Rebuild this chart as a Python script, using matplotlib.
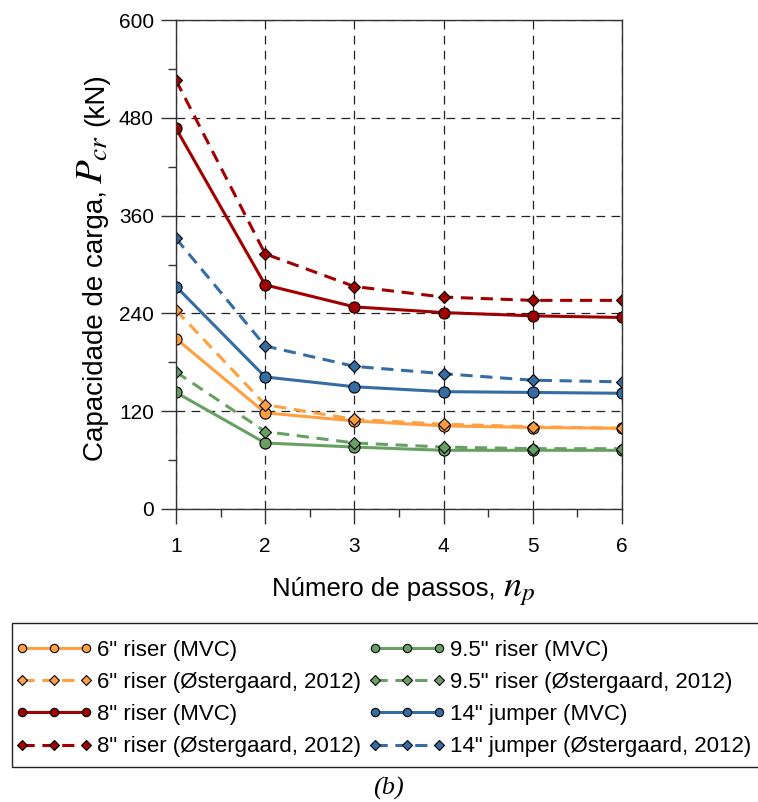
import numpy as np
import matplotlib
matplotlib.use('Agg')
import matplotlib.pyplot as plt
from matplotlib.patches import Rectangle
from matplotlib.transforms import IdentityTransform

plt.rcParams['font.family'] = ['Liberation Sans', 'DejaVu Sans']
plt.rcParams['mathtext.fontset'] = 'stix'

# Data
n_p = [1, 2, 3, 4, 5, 6]
riser6_mvc = [209, 118, 108, 102, 100, 99]
riser6_ost = [244, 128, 110, 104, 101, 99]
riser8_mvc = [467, 275, 248, 241, 237, 235]
riser8_ost = [526, 313, 273, 260, 256, 256]
riser95_mvc = [143, 81, 76, 72, 72, 72]
riser95_ost = [168, 95, 81, 76, 74, 74]
jumper14_mvc = [273, 162, 150, 144, 143, 142]
jumper14_ost = [332, 200, 175, 166, 158, 156]

labels = ['6" riser (MVC)', '6" riser (Østergaard, 2012)',
          '8" riser (MVC)', '8" riser (Østergaard, 2012)',
          '9.5" riser (MVC)', '9.5" riser (Østergaard, 2012)',
          '14" jumper (MVC)', '14" jumper (Østergaard, 2012)']

c_orange = '#FFA040'
c_red = '#A00000'
c_blue = '#356CA3'
c_green = '#68A064'

W, H = 758, 802
fig = plt.figure(figsize=(W / 100, H / 100), dpi=100)
ax = fig.add_axes([176 / W, 1 - 509 / H, 446 / W, 489 / H])

lw = 2.2
dash = (4, 2.5)
mvc_kw = dict(marker='o', markersize=8, markeredgecolor='black', markeredgewidth=0.8, lw=lw)
ost_kw = dict(marker='D', markersize=6.5, markeredgecolor='black', markeredgewidth=0.8, lw=lw,
              linestyle='--', dashes=dash)

handles = {}
for key, y, col in [('6m', riser6_mvc, c_orange), ('8m', riser8_mvc, c_red),
                    ('9m', riser95_mvc, c_green), ('14m', jumper14_mvc, c_blue)]:
    handles[key], = ax.plot(n_p, y, color=col, markerfacecolor=col, **mvc_kw)
for key, y, col in [('6o', riser6_ost, c_orange), ('8o', riser8_ost, c_red),
                    ('9o', riser95_ost, c_green), ('14o', jumper14_ost, c_blue)]:
    handles[key], = ax.plot(n_p, y, color=col, markerfacecolor=col, **ost_kw)

ax.set_xlim(1, 6)
ax.set_ylim(0, 600)
ax.set_xticks(n_p)
ax.set_yticks([0, 120, 240, 360, 480, 600])
ax.set_xticks(np.arange(1.5, 6, 1), minor=True)
ax.set_yticks([60, 180, 300, 420, 540], minor=True)
ax.tick_params(which='major', direction='out', length=11, width=1, color='#333333',
               labelsize=15)
ax.tick_params(which='minor', direction='out', length=5.5, width=1, color='#333333')
ax.tick_params(axis='x', which='major', pad=9)
ax.tick_params(axis='y', which='major', pad=5)
for s in ax.spines.values():
    s.set_color('#333333')
    s.set_linewidth(1)
ax.grid(True, which='major', color='#222222', linestyle=(0, (7, 5)), linewidth=0.9)
ax.set_axisbelow(True)

# axis labels: plain text pieces with a larger serif math symbol, placed in pixels
renderer = fig.canvas.get_renderer()


def chain(parts, x, y, rotation):
    for s, size, gap in parts:
        t = fig.text(x, y, s, fontsize=size, rotation=rotation, rotation_mode='anchor',
                     ha='left', va='baseline', transform=IdentityTransform())
        bb = t.get_window_extent(renderer)
        if rotation == 90:
            y = bb.y1 + gap
        else:
            x = bb.x1 + gap


chain([('Número de passos,', 18.5, 7), ('$n_p$', 26, 0)], 272, H - 596, 0)
chain([('Capacidade de carga,', 20, 6), ('$P_{cr}$', 28, 9), ('(kN)', 20, 0)],
      103, H - 461, 90)

order = ['6m', '6o', '8m', '8o', '9m', '9o', '14m', '14o']
leg = fig.legend([handles[k] for k in order], labels, ncol=2, loc='upper left',
                 bbox_to_anchor=(15 / W, 1 - 640 / H), frameon=False,
                 fontsize=16, numpoints=3, markerscale=0.75, handlelength=3.5,
                 handletextpad=0.2, columnspacing=0.3, labelspacing=0.5,
                 borderpad=0, borderaxespad=0)

fig.patches.append(Rectangle((11.7 / W, 1 - 767 / H), 760 / W, 144 / H,
                             transform=fig.transFigure, fill=False,
                             edgecolor='#222222', linewidth=1))

fig.text(388 / W, 1 - 788 / H, '(b)', fontsize=19, family='Liberation Serif',
         style='italic', ha='center', va='center')

fig.savefig('out.png', dpi=100)
